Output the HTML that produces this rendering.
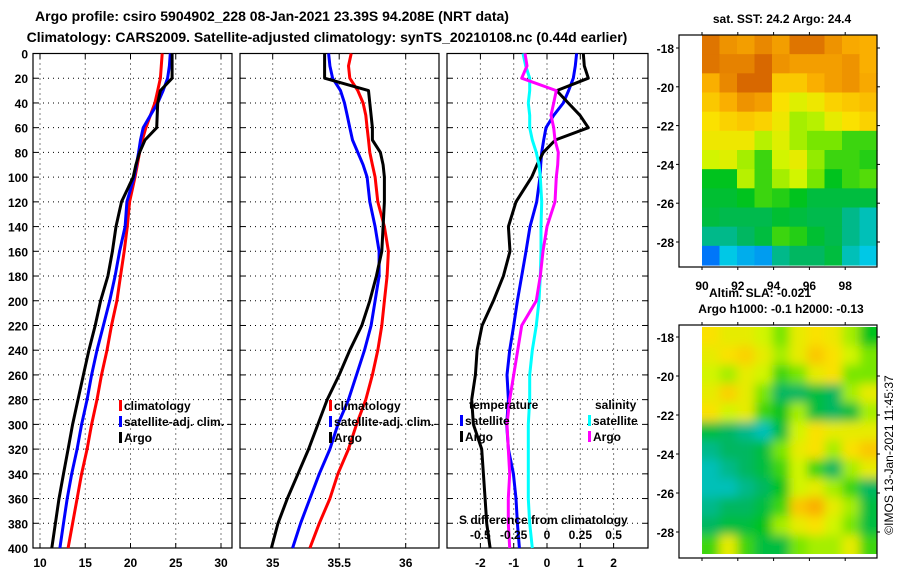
<!DOCTYPE html>
<html><head><meta charset="utf-8">
<style>
body{margin:0;background:#fff;}
svg{display:block;font-family:"Liberation Sans",sans-serif;font-weight:bold;}
</style></head>
<body>
<svg id="chart" width="900" height="580" viewBox="0 0 900 580" xmlns="http://www.w3.org/2000/svg">
<text x="272" y="21" font-size="14" text-anchor="middle">Argo profile: csiro 5904902_228 08-Jan-2021 23.39S 94.208E (NRT data)</text>
<text x="327" y="42" font-size="14" text-anchor="middle">Climatology: CARS2009. Satellite-adjusted climatology: synTS_20210108.nc (0.44d earlier)</text>
<text x="782" y="23" font-size="12" text-anchor="middle">sat. SST: 24.2 Argo: 24.4</text>
<text x="760" y="297" font-size="12" text-anchor="middle">Altim. SLA: -0.021</text>
<text x="781" y="313" font-size="12" text-anchor="middle">Argo h1000: -0.1 h2000: -0.13</text>
<text transform="translate(893,455) rotate(-90)" font-size="12" font-weight="normal" text-anchor="middle">©IMOS 13-Jan-2021 11:45:37</text>
<g id="g"></g>
</svg>
<script>
const depths=[0,10,20,30,40,50,60,70,80,90,100,120,140,160,180,200,220,240,260,280,300,320,340,360,380,400];
// Temperature profiles
const tClim=[23.5,23.4,23.3,23.0,22.7,22.2,21.7,21.3,21.0,20.75,20.5,19.9,19.65,19.3,18.9,18.5,17.9,17.4,16.8,16.3,15.7,15.2,14.6,14.1,13.6,13.1];
const tSat=[24.4,24.3,24.1,23.6,23.0,22.2,21.4,21.1,20.9,20.65,20.4,19.6,19.4,18.8,18.3,17.7,17.0,16.3,15.7,15.2,14.6,14.1,13.5,13.0,12.6,12.2];
const tArgo=[24.6,24.6,24.6,23.3,23.0,22.95,22.9,21.6,21.0,20.6,20.3,19.0,18.4,18.0,17.5,16.7,16.1,15.4,14.8,14.2,13.6,13.1,12.6,12.1,11.7,11.3];
// Salinity profiles
const sClim=[35.59,35.57,35.58,35.64,35.68,35.70,35.71,35.72,35.73,35.75,35.77,35.79,35.84,35.87,35.86,35.84,35.82,35.79,35.75,35.70,35.63,35.57,35.49,35.43,35.35,35.28];
const sSat=[35.42,35.43,35.45,35.51,35.54,35.56,35.58,35.60,35.64,35.68,35.71,35.73,35.77,35.80,35.80,35.77,35.74,35.69,35.63,35.57,35.49,35.43,35.35,35.28,35.21,35.15];
const sArgo=[35.39,35.39,35.39,35.72,35.73,35.74,35.75,35.75,35.81,35.83,35.84,35.84,35.83,35.82,35.78,35.73,35.67,35.58,35.50,35.41,35.34,35.27,35.19,35.11,35.04,34.99];
// Differences from climatology
const dTSat=[0.89,0.85,0.79,0.65,0.49,0.2,-0.03,-0.1,-0.16,-0.19,-0.21,-0.31,-0.51,-0.63,-0.76,-0.89,-1.0,-1.12,-1.2,-1.16,-1.21,-1.16,-1.01,-0.93,-0.89,-0.83];
const dTArgo=[1.09,1.12,1.24,0.29,0.64,0.99,1.24,0.25,-0.11,-0.3,-0.46,-0.93,-1.16,-1.11,-1.31,-1.61,-1.95,-2.1,-2.15,-2.26,-2.21,-1.96,-1.91,-1.86,-1.81,-1.71];
const dSSat=[-0.18,-0.16,-0.13,-0.13,-0.14,-0.13,-0.13,-0.11,-0.08,-0.06,-0.05,-0.04,-0.045,-0.045,-0.05,-0.06,-0.08,-0.11,-0.13,-0.13,-0.14,-0.14,-0.14,-0.14,-0.13,-0.11];
const dSArgo=[-0.165,-0.15,-0.19,0.07,0.05,0.03,0.05,0.06,0.085,0.08,0.07,0.06,0.0,-0.03,-0.05,-0.08,-0.19,-0.22,-0.25,-0.28,-0.30,-0.29,-0.28,-0.29,-0.29,-0.28];
const depthTicks=[0,20,40,60,80,100,120,140,160,180,200,220,240,260,280,300,320,340,360,380,400];
const tTicks=[10,15,20,25,30];
const sTicks=[35,35.5,36];
const dTicks=[-2,-1,0,1,2];
const dSTickLabels=["-0.5","-0.25","0","0.25","0.5"];
// Map grids (normalised colour value 0..1), rows north to south
const sstGrid=[
[0.95,0.9,0.88,0.92,0.88,0.95,0.95,0.9,0.86,0.85],
[0.95,0.93,0.93,0.97,0.9,0.88,0.88,0.88,0.9,0.85],
[0.85,0.92,0.97,0.97,0.8,0.8,0.85,0.88,0.9,0.86],
[0.8,0.85,0.9,0.88,0.75,0.68,0.72,0.78,0.8,0.82],
[0.75,0.78,0.8,0.78,0.72,0.6,0.62,0.7,0.75,0.78],
[0.72,0.72,0.72,0.62,0.68,0.6,0.55,0.55,0.5,0.5],
[0.65,0.68,0.6,0.5,0.65,0.7,0.58,0.5,0.5,0.48],
[0.45,0.45,0.62,0.5,0.6,0.65,0.55,0.45,0.5,0.52],
[0.42,0.42,0.45,0.5,0.48,0.45,0.4,0.4,0.4,0.4],
[0.4,0.38,0.38,0.38,0.42,0.4,0.38,0.38,0.3,0.25],
[0.3,0.3,0.35,0.4,0.5,0.48,0.42,0.38,0.3,0.25],
[0.05,0.2,0.15,0.12,0.3,0.35,0.35,0.4,0.25,0.2]];
const slaGrid=[
[0.75,0.7,0.7,0.65,0.55,0.7,0.75,0.72,0.6,0.45],
[0.7,0.75,0.78,0.7,0.6,0.7,0.8,0.75,0.65,0.55],
[0.65,0.6,0.7,0.65,0.5,0.55,0.7,0.75,0.55,0.55],
[0.7,0.78,0.7,0.55,0.35,0.35,0.4,0.35,0.6,0.7],
[0.75,0.65,0.7,0.5,0.45,0.6,0.4,0.35,0.4,0.6],
[0.4,0.35,0.3,0.25,0.4,0.65,0.75,0.7,0.7,0.7],
[0.3,0.35,0.35,0.4,0.55,0.7,0.75,0.6,0.75,0.8],
[0.25,0.3,0.35,0.4,0.5,0.65,0.5,0.35,0.6,0.7],
[0.25,0.25,0.3,0.35,0.45,0.65,0.7,0.6,0.5,0.35],
[0.3,0.35,0.35,0.4,0.5,0.8,0.85,0.7,0.6,0.4],
[0.35,0.4,0.4,0.45,0.6,0.7,0.75,0.65,0.55,0.4],
[0.5,0.7,0.5,0.4,0.4,0.55,0.6,0.6,0.7,0.5]];
const latTicks=[-18,-20,-22,-24,-26,-28];
const lonTicks=[90,92,94,96,98];

const NS="http://www.w3.org/2000/svg";
const G=document.getElementById('g');
function mk(tag,attrs,parent){const e=document.createElementNS(NS,tag);for(const k in attrs)e.setAttribute(k,attrs[k]);(parent||G).appendChild(e);return e;}
const Y0=53.5,Y1=548;
const yD=d=>Y0+(Y1-Y0)*d/400;
const panels=[
 {x0:33,x1:232,sx:v=>40+(v-10)*9.05,ticks:tTicks,name:'temperature-panel'},
 {x0:240,x1:439,sx:v=>272.7+(v-35)*133,ticks:sTicks,name:'salinity-panel'},
 {x0:447,x1:648,sx:v=>547+v*33.3,ticks:dTicks,name:'difference-panel'}];
const sxS=v=>547+v*133.3;

panels.forEach((p,pi)=>{
 const grp=mk('g',{});
 
 
 depthTicks.forEach(d=>{
  const l=mk('line',{x1:p.x0,x2:p.x1,y1:yD(d),y2:yD(d),stroke:'#000','stroke-width':1,'stroke-dasharray':'1,4'},grp);
  
  
  mk('line',{x1:p.x0,x2:p.x0+5,y1:yD(d),y2:yD(d),stroke:'#000'},grp);
  mk('line',{x1:p.x1-5,x2:p.x1,y1:yD(d),y2:yD(d),stroke:'#000'},grp);
 });
 p.ticks.forEach((t,i)=>{
  const x=p.sx(t);
  const l=mk('line',{x1:x,x2:x,y1:Y0,y2:Y1,stroke:'#000','stroke-dasharray':'1,4'},grp);
  
  
  mk('line',{x1:x,x2:x,y1:Y1-5,y2:Y1,stroke:'#000'},grp);
  mk('line',{x1:x,x2:x,y1:Y0,y2:Y0+5,stroke:'#000'},grp);
  const tx=mk('text',{x:x,y:567,'font-size':12,'text-anchor':'middle'},grp);
  tx.textContent=String(t);
  
  
 });
 const fr=mk('rect',{x:p.x0,y:Y0,width:p.x1-p.x0,height:Y1-Y0,fill:'none',stroke:'#000','stroke-width':1.2},grp);
 
 
});
depthTicks.forEach(d=>{
 const t=mk('text',{x:28,y:yD(d)+5,'font-size':12,'text-anchor':'end'});
 t.textContent=String(d);
 
 
});
function line(vals,sx,color,name){
 const pts=vals.map((v,i)=>sx(v).toFixed(1)+','+yD(depths[i]).toFixed(1)).join(' ');
 const l=mk('polyline',{points:pts,fill:'none',stroke:color,'stroke-width':3,'stroke-linejoin':'round'});
 
 
}
line(tClim,panels[0].sx,'#ff0000','temp-climatology-line');
line(tSat,panels[0].sx,'#0000ff','temp-satellite-line');
line(tArgo,panels[0].sx,'#000000','temp-argo-line');
line(sClim,panels[1].sx,'#ff0000','sal-climatology-line');
line(sSat,panels[1].sx,'#0000ff','sal-satellite-line');
line(sArgo,panels[1].sx,'#000000','sal-argo-line');
line(dTSat,panels[2].sx,'#0000ff','temp-diff-satellite-line');
line(dTArgo,panels[2].sx,'#000000','temp-diff-argo-line');
line(dSSat,sxS,'#00ffff','sal-diff-satellite-line');
line(dSArgo,sxS,'#ff00ff','sal-diff-argo-line');

function legend(x,y,color,label,name){
 const r=mk('rect',{x:x,y:y-10,width:3,height:11,fill:color});
 
 
 const t=mk('text',{x:x+5,y:y,'font-size':12});
 t.textContent=label;
 
 
}
legend(119,410,'#ff0000','climatology','legend-climatology');
legend(119,426,'#0000ff','satellite-adj. clim.','legend-satellite-adj');
legend(119,442,'#000000','Argo','legend-argo');
legend(329,410,'#ff0000','climatology','legend-climatology-2');
legend(329,426,'#0000ff','satellite-adj. clim.','legend-satellite-adj-2');
legend(329,442,'#000000','Argo','legend-argo-2');
{const t=mk('text',{x:469,y:409,'font-size':12});t.textContent='temperature';

}
{const t=mk('text',{x:595,y:409,'font-size':12});t.textContent='salinity';

}
legend(460,425,'#0000ff','satellite','legend-temp-satellite');
legend(460,441,'#000000','Argo','legend-temp-argo');
legend(588,425,'#00ffff','satellite','legend-sal-satellite');
legend(588,441,'#ff00ff','Argo','legend-sal-argo');
{const t=mk('text',{x:459,y:524,'font-size':12});t.textContent='S difference from climatology';

}
dSTickLabels.forEach((s,i)=>{
 const t=mk('text',{x:sxS(parseFloat(s)),y:539,'font-size':12,'text-anchor':'middle'});
 t.textContent=s;
 
 
});

// colormap
const stops=[[0,[0,90,255]],[0.2,[0,200,230]],[0.33,[0,180,110]],[0.45,[0,195,30]],[0.55,[120,230,0]],[0.65,[210,245,0]],[0.75,[250,225,0]],[0.85,[250,175,0]],[0.93,[230,130,0]],[1,[205,85,0]]];
function cmap(v){
 for(let i=1;i<stops.length;i++){if(v<=stops[i][0]){const a=stops[i-1],b=stops[i];const f=(v-a[0])/(b[0]-a[0]);
  const c=a[1].map((x,k)=>Math.round(x+(b[1][k]-x)*f));return 'rgb('+c.join(',')+')';}}
 return 'rgb(205,85,0)';
}
const defs=mk('defs',{});
const flt=mk('filter',{id:'blur',x:'-10%',y:'-10%',width:'120%',height:'120%'},defs);
mk('feGaussianBlur',{stdDeviation:5},flt);
const cp=mk('clipPath',{id:'clip2'},defs);
mk('rect',{x:702,y:327,width:175,height:227},cp);

function drawMap(grid,bx0,by0,bx1,by1,ix0,iy0,ix1,iy1,lat0,latStep,name,blur){
 const grp=mk('g',{});
 
 
 const inner=mk('g',blur?{'clip-path':'url(#clip2)'}:{},grp);
 const inner2=mk('g',blur?{filter:'url(#blur)'}:{},inner);
 const rows=grid.length,cols=grid[0].length;
 const cw=(ix1-ix0)/cols,ch=(iy1-iy0)/rows;
 grid.forEach((row,r)=>row.forEach((v,c)=>{
  const ex=blur?(c==0?-10:0):0, ey=blur?(r==0?-10:0):0;
  const rc=mk('rect',{x:ix0+c*cw+ex,y:iy0+r*ch+ey,width:cw+0.6+(blur&&(c==cols-1||c==0)?10:0),height:ch+0.6+(blur&&(r==rows-1||r==0)?10:0),fill:cmap(v)},inner2);
  
  
 }));
 mk('rect',{x:bx0,y:by0,width:bx1-bx0,height:by1-by0,fill:'none',stroke:'#000','stroke-width':1.2},grp);
 latTicks.forEach(l=>{
  const y=lat0+(l+18)*-latStep;
  mk('line',{x1:bx0-3,x2:bx0,y1:y,y2:y,stroke:'#000'},grp);
  mk('line',{x1:bx1,x2:bx1+3,y1:y,y2:y,stroke:'#000'},grp);
  const t=mk('text',{x:bx0-5,y:y+5,'font-size':12,'text-anchor':'end'},grp);
  t.textContent=String(l);
  
  
 });
 lonTicks.forEach(l=>{
  const x=702+(l-90)*17.9;
  mk('line',{x1:x,x2:x,y1:by0-3,y2:by0,stroke:'#000'},grp);
  mk('line',{x1:x,x2:x,y1:by1,y2:by1+3,stroke:'#000'},grp);
 });
 return grp;
}
const m1=drawMap(sstGrid,679,35,877,267,702,35,877,265,48,19.4,'sst-map',false);
lonTicks.forEach(l=>{
 const t=mk('text',{x:702+(l-90)*17.9,y:290,'font-size':12,'text-anchor':'middle'},m1);
 t.textContent=String(l);
 
 
});
drawMap(slaGrid,679,325,877,558,702,327,877,554,337,19.5,'sla-map',true);
</script>
</body></html>
